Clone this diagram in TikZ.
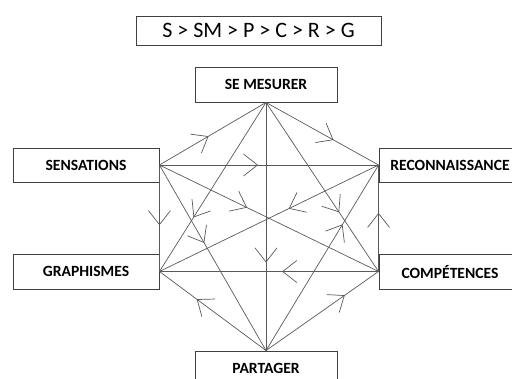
\documentclass[tikz,border=0pt]{standalone}
\usepackage{fontspec}
\setmainfont{Carlito}
\usetikzlibrary{arrows.meta,decorations.markings}
\begin{document}
\begin{tikzpicture}[x=1pt,y=-1pt,
        flow/.style={decoration={markings,mark=at position #1 with {\arrow{Straight Barb[length=14pt,width=22pt]}}},postaction={decorate}}]
        \tikzstyle{box}=[draw=black!75,line width=0.9pt,text=black,font=\fontsize{15.6}{18}\selectfont\bfseries,minimum height=35pt,inner sep=0pt]
        \tikzstyle{link}=[draw=black!65,line width=0.7pt]
        \useasboundingbox (0,0) rectangle (512,378);
        \node[box,minimum width=245pt,minimum height=29pt,font=\fontsize{22}{26}\selectfont] (order) at (258.5,30.5) {S > SM > P > C > R > G};
        \node[box,minimum width=142pt] (sm) at (266,84.5) {SE MESURER};
        \node[box,minimum width=146pt,minimum height=34pt] (sens) at (86,165) {SENSATIONS};
        \node[box,minimum width=142pt,minimum height=34pt] (reco) at (450,165) {RECONNAISSANCE};
        \node[box,minimum width=146pt] (graph) at (86,271.5) {GRAPHISMES};
        \node[box,minimum width=142pt] (comp) at (450,271.5) {COMPÉTENCES};
        \node[box,minimum width=142pt] (part) at (266,368.5) {PARTAGER};
        \draw[link,flow=0.46] (sens.east) -- (sm.south);
        \draw[link,flow=0.6] (sm.south) -- (reco.west);
        \draw[link,flow=0.45] (sens.east) -- (reco.west);
        \draw[link,flow=0.645] (sm.south) -- (part.north);
        \draw[link,flow=0.44] (comp.west) -- (graph.east);
        \draw[link,flow=0.65] (part.north) -- (graph.east);
        \draw[link,flow=0.7] (part.north) -- (comp.west);
        \draw[link,flow=0.565] (sens.east) -- (graph.east);
        \draw[link,flow=0.55] (comp.west) -- (reco.west);
        \draw[link,flow=0.4] (sens.east) -- (comp.west);
        \draw[link,flow=0.65] (sm.south) -- (comp.west);
        \draw[link,flow=0.68] (sm.south) -- (graph.east);
        \draw[link,flow=0.41] (reco.west) -- (graph.east);
        \draw[link,flow=0.42] (sens.east) -- (part.north);
        \draw[link,flow=0.68] (part.north) -- (reco.west);
\end{tikzpicture}
\end{document}
